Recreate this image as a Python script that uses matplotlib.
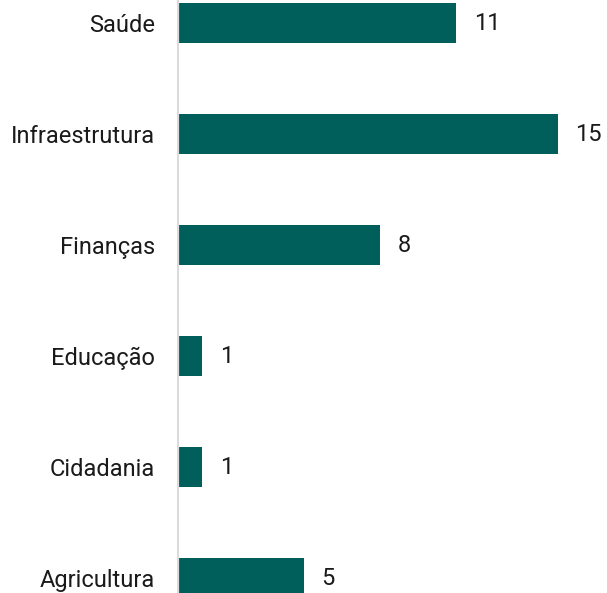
import matplotlib
matplotlib.use("Agg")
import matplotlib.pyplot as plt

plt.rcParams['font.family'] = ['Roboto', 'DejaVu Sans']

categorias = ["Saúde", "Infraestrutura", "Finanças", "Educação", "Cidadania", "Agricultura"]
valores = [11, 15, 8, 1, 1, 5]

cor = "#005f5a"
W, H = 607, 593
x0 = 176.5   # pixel do zero
px = 25.4    # pixels por unidade
fig = plt.figure(figsize=(W / 100, H / 100), dpi=100)
ax = fig.add_axes([x0 / W, 0, 1 - x0 / W, 1])

pos = list(range(len(categorias)))
ax.barh(pos, valores, height=0.36, color=cor, zorder=1)

ax.set_xlim(0, (W - x0) / px)
ax.set_ylim((H - 23) / 111, -23 / 111)

# faixa branca entre o eixo e as barras
ax.axvline(0, color="white", lw=3.0, zorder=2)
ax.axvline(1.0 / px, color="#d4d4d4", lw=1.2, zorder=3)

for p, v in zip(pos, valores):
    ax.text(v + 18 / px, p, str(v), va="center", ha="left", fontsize=17, color="#1a1a1a")

ax.set_yticks(pos)
ax.set_yticklabels(categorias, fontsize=17, color="#1a1a1a")
ax.tick_params(axis="y", length=0, pad=15.5)
ax.set_xticks([])
for s in ["top", "right", "bottom", "left"]:
    ax.spines[s].set_visible(False)

fig.savefig("out.png", dpi=100)
